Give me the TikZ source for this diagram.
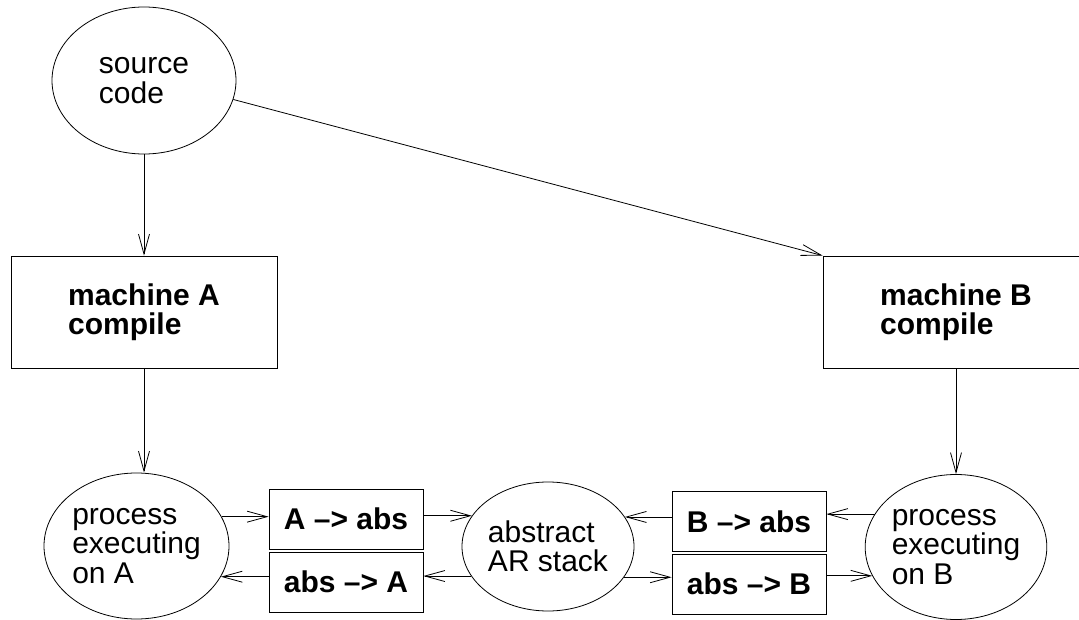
\documentclass[tikz,border=0pt]{standalone}
\usepackage{fontspec}
\setmainfont{Liberation Sans}
\usetikzlibrary{arrows.meta,shapes.geometric}
\tikzset{
  lbl/.style={font=\fontsize{30}{29.5}\selectfont, inner sep=0pt, align=left},
  oval/.style={lbl, draw, ellipse, line width=0.8pt},
  bigbox/.style={lbl, draw, rectangle, line width=0.8pt, minimum width=266pt, minimum height=112pt, font=\fontsize{30}{29.5}\selectfont\bfseries},
  convbox/.style={lbl, draw, rectangle, line width=0.8pt, minimum width=154pt, minimum height=60pt, font=\fontsize{30}{29.5}\selectfont\bfseries},
  arr/.style={-{Straight Barb[length=20pt,width=11pt]}, line width=0.8pt}
}
\begin{document}
\begin{tikzpicture}[x=1pt,y=-1pt]
\useasboundingbox (0,0) rectangle (1079,620);
\clip (0,0) rectangle (1079,620);
\node[oval, minimum width=184pt, minimum height=147pt] (sc) at (144,80.5) {source\\code};
\node[bigbox] (mA) at (144,312) {machine A\\compile};
\node[bigbox] (mB) at (956,312) {machine B\\compile};
\node[oval, minimum width=185pt, minimum height=146pt] (pA) at (136.5,546) {process\\executing\\on A};
\node[convbox] (a2abs) at (346,519) {A \textendash> abs};
\node[convbox] (abs2a) at (346,582) {abs \textendash> A};
\node[oval, minimum width=172pt, minimum height=129pt] (abs) at (548,546.5) {abstract\\AR stack};
\node[convbox] (b2abs) at (749,521.5) {B \textendash> abs};
\node[convbox] (abs2b) at (749,584) {abs \textendash> B};
\node[oval, minimum width=176pt, minimum height=145pt] (pB) at (956,547) {process\\executing\\on B};

\draw[arr] (sc.south) -- (mA.north);
\draw[arr] (sc.-12) -- (mB.north west);
\draw[arr] (mA.south) -- (mA.south |- pA.north);
\draw[arr] (mB.south) -- (pB.north);

\draw[arr] (pA.19.6) -- (pA.19.6 -| a2abs.west);
\draw[arr] (a2abs.east |- abs.158.1) -- (abs.158.1);
\draw[arr] (abs.201.1) -- (abs.201.1 -| abs2a.east);
\draw[arr] (abs2a.west |- pA.340.4) -- (pA.340.4);
\draw[arr] (pB.158.7) -- (pB.158.7 -| b2abs.east);
\draw[arr] (b2abs.west |- abs.21.9) -- (abs.21.9);
\draw[arr] (abs.338.9) -- (abs.338.9 -| abs2b.west);
\draw[arr] (abs2b.east |- pB.199.8) -- (pB.199.8);
\end{tikzpicture}
\end{document}
